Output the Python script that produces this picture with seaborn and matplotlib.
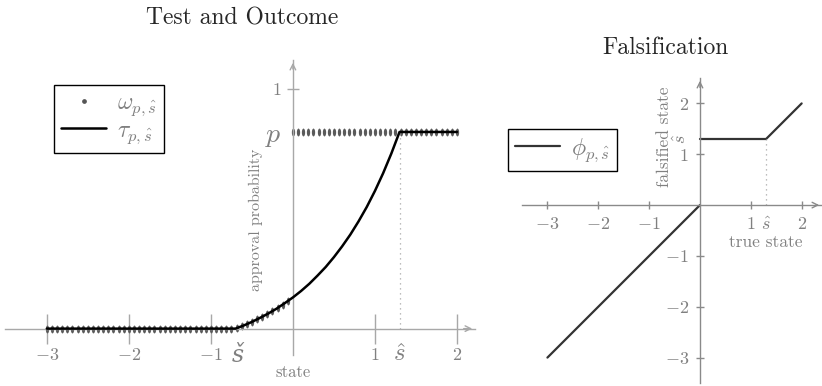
import numpy as np
import matplotlib.pyplot as plt
import seaborn as sns
from matplotlib.path import Path
from matplotlib.markers import MarkerStyle
from matplotlib.transforms import Affine2D
from matplotlib.lines import Line2D

# values
p = 0.82
s_check = -0.7
s_hat = 1.3

# tau: approval probability curve
tau_state = [-3.0, -0.7, -0.6, -0.5, -0.4, -0.3, -0.2, -0.1, 0.0, 0.1, 0.2, 0.3,
             0.4, 0.5, 0.6, 0.7, 0.8, 0.9, 1.0, 1.1, 1.2, 1.3, 2.0]
tau_value = [0.0, 0.0, 0.013, 0.028, 0.045, 0.063, 0.083, 0.106, 0.130, 0.157,
             0.187, 0.221, 0.257, 0.298, 0.343, 0.392, 0.447, 0.507, 0.574,
             0.648, 0.730, 0.82, 0.82]

# omega: sampled outcome (81 samples on [-3, 2])
omega_state = np.linspace(-3, 2, 81)
omega_ramp = [0.002, 0.010, 0.019, 0.028, 0.039, 0.049, 0.061, 0.073, 0.086,
              0.100, 0.114]
omega_value = [0.0] * 37 + omega_ramp + [p] * 33

# phi: falsification map
phi_left_x = [-3.0, 0.0]
phi_left_y = [-3.0, 0.0]
phi_right_x = [0.0, s_hat, 2.0]
phi_right_y = [s_hat, s_hat, 2.0]

left_xticks = [-3, -2, -1, 1, 2]
right_ticks = [-3, -2, -1, 1, s_hat, 2]

sns.set_style("white")
plt.rcParams["font.family"] = "serif"
plt.rcParams["font.serif"] = ["cmr10", "DejaVu Serif"]
plt.rcParams["mathtext.fontset"] = "cm"
plt.rcParams["axes.unicode_minus"] = False

axis_col = "#a8a8a8"
text_col = "#808080"


def center_axes(ax, arrow_col):
    for side in ["top", "right"]:
        ax.spines[side].set_visible(False)
    ax.spines["left"].set_position(("data", 0))
    ax.spines["bottom"].set_position(("data", 0))
    for side in ["left", "bottom"]:
        ax.spines[side].set_color(arrow_col)
        ax.spines[side].set_linewidth(1.0)
    ax.annotate("", xy=(1, 0), xycoords=("axes fraction", "data"),
                xytext=(0.97, 0), textcoords=("axes fraction", "data"),
                arrowprops=dict(arrowstyle="->", color=arrow_col, lw=1.0))
    ax.annotate("", xy=(0, 1), xycoords=("data", "axes fraction"),
                xytext=(0, 0.96), textcoords=("data", "axes fraction"),
                arrowprops=dict(arrowstyle="->", color=arrow_col, lw=1.0))
    ax.set_facecolor("none")


fig = plt.figure(figsize=(8.22, 3.86), dpi=100)

# ---- left: test and outcome
ax1 = fig.add_axes([5 / 822, 31 / 386, 470 / 822, 295 / 386])
ellipse = MarkerStyle(Path.unit_circle().transformed(Affine2D().scale(0.42, 1.0)))
sns.scatterplot(x=omega_state, y=omega_value, marker=ellipse, s=32,
                color="#5a5a5a", linewidth=0, ax=ax1, zorder=2)
sns.lineplot(x=tau_state, y=tau_value, color="black", linewidth=1.8,
             ax=ax1, zorder=3)
ax1.vlines(s_hat, 0, p, colors=axis_col, linestyles=(0, (1, 3)), linewidth=0.9)
ax1.set_xlim(-3.51, 2.22)
ax1.set_ylim(-0.11, 1.12)
center_axes(ax1, axis_col)

ax1.set_xticks(left_xticks, [f"${v}$" for v in left_xticks])
ax1.set_yticks([p, 1], ["$p$", "$1$"])
ax1.tick_params(axis="x", bottom=True, direction="inout", length=22, width=1.0,
                colors=axis_col, labelcolor=text_col, labelsize=13, pad=2)
ax1.tick_params(axis="y", left=True, direction="inout", length=8, width=1.0,
                colors=axis_col, labelcolor=text_col, labelsize=13, pad=4)
ax1.get_yticklabels()[0].set_fontsize(20)
ax1.yaxis.get_major_ticks()[0].tick1line.set_visible(False)

ax1.text(s_check + 0.03, 0.0, "š", transform=ax1.get_xaxis_transform(),
         ha="center", va="center", fontsize=17, color=text_col,
         family=["DejaVu Serif"], style="italic")
ax1.text(s_hat, 0.0, r"$\hat{s}$", transform=ax1.get_xaxis_transform(),
         ha="center", va="center", fontsize=18, color=text_col)
ax1.text(0, -0.058, "state", transform=ax1.get_xaxis_transform(),
         ha="center", va="center", fontsize=12, color=text_col)
ax1.text(-0.45, 0.455, "approval probability", rotation=90,
         ha="center", va="center", fontsize=11.5, color=text_col)
ax1.set_xlabel("")
ax1.set_ylabel("")

handles1 = [Line2D([], [], marker="o", markersize=2.4, color="#555555", ls=""),
            Line2D([], [], color="black", lw=1.8)]
leg1 = ax1.legend(handles1, [r"$\omega_{p,\hat{s}}$", r"$\tau_{p,\hat{s}}$"],
                  loc="upper left", bbox_to_anchor=(54 / 822, 1 - 85 / 386),
                  bbox_transform=fig.transFigure, frameon=True, fancybox=False,
                  edgecolor="black", framealpha=1, fontsize=17,
                  labelcolor=text_col, borderpad=0.3, labelspacing=0.05,
                  handlelength=1.9, handletextpad=0.45, borderaxespad=0)
leg1.get_frame().set_linewidth(1.0)

# ---- right: falsification
ax2 = fig.add_axes([522 / 822, 3 / 386, 300 / 822, 305 / 386])
sns.lineplot(x=phi_left_x, y=phi_left_y, color="#333333", linewidth=1.6, ax=ax2)
sns.lineplot(x=phi_right_x, y=phi_right_y, color="#333333", linewidth=1.6, ax=ax2)
ax2.vlines(s_hat, 0, s_hat, colors=axis_col, linestyles=(0, (1, 3)), linewidth=0.9)
ax2.set_xlim(-3.5, 2.4)
ax2.set_ylim(-3.5, 2.5)
center_axes(ax2, "#8a8a8a")

tick_labels = ["$-3$", "$-2$", "$-1$", "$1$", r"$\hat{s}$", "$2$"]
ax2.set_xticks(right_ticks, tick_labels)
ax2.set_yticks(right_ticks, tick_labels)
ax2.tick_params(bottom=True, left=True, direction="inout", length=6, width=1.0,
                colors="#8a8a8a", labelcolor=text_col, labelsize=13, pad=5)
ax2.xaxis.get_major_ticks()[4].tick1line.set_visible(False)
ax2.yaxis.get_major_ticks()[4].tick1line.set_visible(False)
ax2.get_yticklabels()[4].set_rotation(90)
ax2.get_yticklabels()[4].set_va("center")
ax2.text(s_hat, -0.73, "true state", ha="center", va="center",
         fontsize=12.5, color=text_col)
ax2.text(-0.71, 1.34, "falsified state", rotation=90, ha="center",
         va="center", fontsize=12.5, color=text_col)
ax2.set_xlabel("")
ax2.set_ylabel("")

handles2 = [Line2D([], [], color="#333333", lw=1.6)]
leg2 = ax2.legend(handles2, [r"$\phi_{p,\hat{s}}$"], loc="upper left",
                  bbox_to_anchor=(508 / 822, 1 - 129 / 386),
                  bbox_transform=fig.transFigure, frameon=True, fancybox=False,
                  edgecolor="black", framealpha=1, fontsize=17,
                  labelcolor=text_col, borderpad=0.3, handlelength=1.9,
                  handletextpad=0.45, borderaxespad=0)
leg2.get_frame().set_linewidth(1.0)

fig.text(242 / 822, 1 - 18 / 386, "Test and Outcome", ha="center", va="center",
         fontsize=17)
fig.text(665 / 822, 1 - 48 / 386, "Falsification", ha="center", va="center",
         fontsize=17)

fig.savefig("out.png", dpi=100, facecolor="white")
